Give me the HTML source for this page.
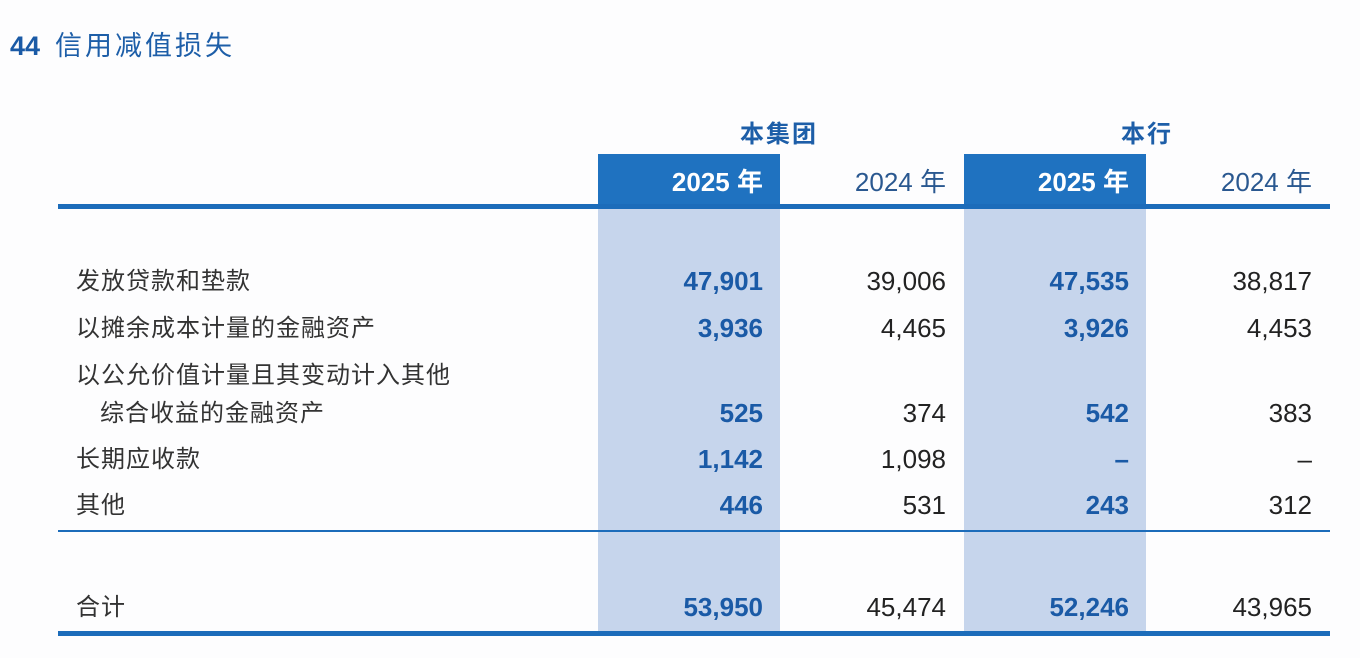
<!DOCTYPE html>
<html><head><meta charset="utf-8"><style>
html,body{margin:0;padding:0}
body{width:1360px;height:658px;background:#fdfdfe;position:relative;overflow:hidden;font-family:"Liberation Sans","Noto Sans CJK SC",sans-serif;color:#222}
.a{position:absolute;white-space:nowrap}
.sh{position:absolute;background:#c6d5ec}
.hd{position:absolute;background:#1f72c0}
.ln{position:absolute;background:#1c6cba;left:58px;width:1272px}
.t{font-size:24px;line-height:30px}
.n{font-size:26px;line-height:30px}
.r{text-align:right}
.b{font-weight:bold;color:#1a5aa6}
.g{color:#333;letter-spacing:1px}
</style></head><body>
<div class="a" style="left:10px;top:24px;font-size:27px;font-weight:bold;color:#1a5aa6">44&nbsp;&nbsp;<span style="font-weight:normal;color:#1d5ea8;letter-spacing:3px">信用减值损失</span></div>

<div class="sh" style="left:598px;top:206px;width:182px;height:428px"></div>
<div class="sh" style="left:964px;top:206px;width:182px;height:428px"></div>
<div class="hd" style="left:598px;top:154px;width:182px;height:53px"></div>
<div class="hd" style="left:964px;top:154px;width:182px;height:53px"></div>
<div class="ln" style="top:204px;height:5px"></div>
<div class="ln" style="top:530px;height:2px"></div>
<div class="ln" style="top:631px;height:5px"></div>

<div class="a t" style="left:740px;top:120px;color:#1d5ea8;font-weight:bold;letter-spacing:2px">本集团</div>
<div class="a t" style="left:1121px;top:120px;color:#1d5ea8;font-weight:bold;letter-spacing:2px">本行</div>
<div class="a n r" style="right:597px;top:167px;color:#fff;font-weight:bold">2025 年</div>
<div class="a n r" style="right:414px;top:167px;color:#2a5890">2024 年</div>
<div class="a n r" style="right:231px;top:167px;color:#fff;font-weight:bold">2025 年</div>
<div class="a n r" style="right:48px;top:167px;color:#2a5890">2024 年</div>

<div class="a t g" style="left:76px;top:267px">发放贷款和垫款</div>
<div class="a t g" style="left:76px;top:314px">以摊余成本计量的金融资产</div>
<div class="a t g" style="left:76px;top:361px">以公允价值计量且其变动计入其他</div>
<div class="a t g" style="left:100px;top:399px">综合收益的金融资产</div>
<div class="a t g" style="left:76px;top:445px">长期应收款</div>
<div class="a t g" style="left:76px;top:491px">其他</div>
<div class="a t g" style="left:76px;top:593px">合计</div>

<div class="a n r b" style="right:597px;top:266px">47,901</div>
<div class="a n r" style="right:414px;top:266px">39,006</div>
<div class="a n r b" style="right:231px;top:266px">47,535</div>
<div class="a n r" style="right:48px;top:266px">38,817</div>

<div class="a n r b" style="right:597px;top:313px">3,936</div>
<div class="a n r" style="right:414px;top:313px">4,465</div>
<div class="a n r b" style="right:231px;top:313px">3,926</div>
<div class="a n r" style="right:48px;top:313px">4,453</div>

<div class="a n r b" style="right:597px;top:398px">525</div>
<div class="a n r" style="right:414px;top:398px">374</div>
<div class="a n r b" style="right:231px;top:398px">542</div>
<div class="a n r" style="right:48px;top:398px">383</div>

<div class="a n r b" style="right:597px;top:444px">1,142</div>
<div class="a n r" style="right:414px;top:444px">1,098</div>
<div class="a n r b" style="right:231px;top:444px">–</div>
<div class="a n r" style="right:48px;top:444px">–</div>

<div class="a n r b" style="right:597px;top:490px">446</div>
<div class="a n r" style="right:414px;top:490px">531</div>
<div class="a n r b" style="right:231px;top:490px">243</div>
<div class="a n r" style="right:48px;top:490px">312</div>

<div class="a n r b" style="right:597px;top:592px">53,950</div>
<div class="a n r" style="right:414px;top:592px">45,474</div>
<div class="a n r b" style="right:231px;top:592px">52,246</div>
<div class="a n r" style="right:48px;top:592px">43,965</div>
</body></html>
